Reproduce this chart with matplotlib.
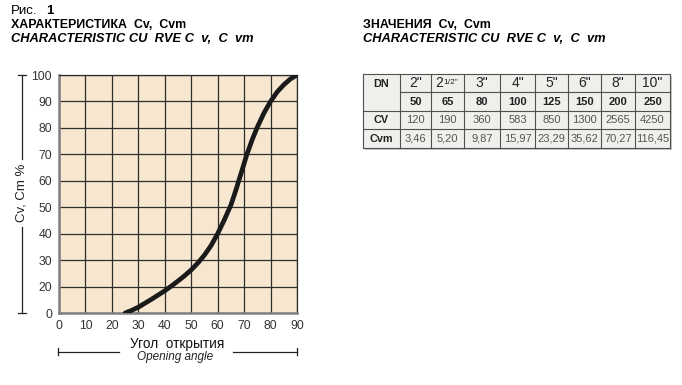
import numpy as np
import matplotlib.pyplot as plt
from matplotlib.patches import Rectangle

plt.rcParams['font.family'] = ['Liberation Sans', 'DejaVu Sans']

# curve (y in grid units: bottom row = 10, labelled "0")
angle = [25, 27.5, 30, 32.5, 35, 37.5, 40, 42.5, 45, 47.5, 50, 52.5, 55, 57.5,
         60, 62.5, 65, 67, 69, 71, 73, 75, 77.5, 80, 82.5, 85, 87.5, 90]
cv_pct = [10, 11.0, 12.2, 13.7, 15.2, 16.8, 18.4, 20.2, 22.1, 24.1, 26.3, 28.9, 31.9, 35.5,
          40, 45.2, 50.8, 56.8, 63.3, 69.8, 75.4, 80.3, 85.6, 90, 93.6, 96.3, 98.5, 100]

xticks = [0, 10, 20, 30, 40, 50, 60, 70, 80, 90]
yticks = [10, 20, 30, 40, 50, 60, 70, 80, 90, 100]
ytick_labels = ['0', '20', '30', '40', '50', '60', '70', '80', '90', '100']

# table values
dn_inch = ['2"', '2 1/2"', '3"', '4"', '5"', '6"', '8"', '10"']
dn_mm = ['50', '65', '80', '100', '125', '150', '200', '250']
cv = ['120', '190', '360', '583', '850', '1300', '2565', '4250']
cvm = ['3,46', '5,20', '9,87', '15,97', '23,29', '35,62', '70,27', '116,45']

W, H = 682, 385
fig = plt.figure(figsize=(W / 100, H / 100), dpi=100)

# overlay in pixel coords for titles, brackets and the table
ov = fig.add_axes([0, 0, 1, 1])
ov.set_xlim(0, W)
ov.set_ylim(H, 0)
ov.axis('off')

# ---- chart
ax = fig.add_axes([59 / W, 1 - 313 / H, 238 / W, 238 / H])
ax.set_facecolor('#f8e7d0')
ax.plot(angle, cv_pct, color='#1a1a1a', lw=3.4, solid_capstyle='round',
        solid_joinstyle='round', zorder=3)
ax.set_xlim(0, 90)
ax.set_ylim(10, 100)
ax.set_xticks(xticks)
ax.set_yticks(yticks)
ax.set_yticklabels(ytick_labels)
ax.grid(True, color='#2e2e2e', lw=0.9)
ax.tick_params(length=0, labelsize=8.8, colors='#333333', pad=5)
for s in ax.spines.values():
    s.set_color('#2e2e2e')
    s.set_linewidth(0.9)
ax.spines['left'].set_color('#808080')
ax.spines['left'].set_linewidth(1.8)
ax.spines['bottom'].set_color('#808080')
ax.spines['bottom'].set_linewidth(1.8)

# y label with bracket
lc = '#222222'
ov.plot([21.5, 21.5], [75, 159], color=lc, lw=0.9)
ov.plot([21.5, 21.5], [227, 313], color=lc, lw=0.9)
ov.plot([18, 26], [75, 75], color=lc, lw=0.9)
ov.plot([18, 26], [313, 313], color=lc, lw=0.9)
ov.text(21.5, 193, 'Cv, Cm %', rotation=90, ha='center', va='center',
        fontsize=9.5, color='#222222')

# x label with bracket
ov.plot([58, 119], [351.5, 351.5], color=lc, lw=0.9)
ov.plot([233, 297], [351.5, 351.5], color=lc, lw=0.9)
ov.plot([58, 58], [348, 355], color=lc, lw=0.9)
ov.plot([297, 297], [348, 355], color=lc, lw=0.9)
ov.text(177, 344, 'Угол  открытия', ha='center', va='center', fontsize=9.8,
        color='#111111')
ov.text(175, 357, 'Opening angle', ha='center', va='center', fontsize=8.5,
        style='italic', color='#222222')

# titles
ov.text(11, 11, 'Рис.', ha='left', va='center', fontsize=9.5)
ov.text(46, 11, '1', ha='left', va='center', fontsize=9.5, weight='bold')
ov.text(11, 25.5, 'ХАРАКТЕРИСТИКА  Cv,  Cvm', ha='left', va='center',
        fontsize=8.9, weight='bold')
ov.text(11, 39, 'CHARACTERISTIC CU  RVE C  v,  C  vm', ha='left', va='center',
        fontsize=9.3, weight='bold', style='italic')
ov.text(363, 24.5, 'ЗНАЧЕНИЯ  Cv,  Cvm', ha='left', va='center',
        fontsize=8.9, weight='bold')
ov.text(363, 39, 'CHARACTERISTIC CU  RVE C  v,  C  vm', ha='left', va='center',
        fontsize=9.3, weight='bold', style='italic')

# ---- table
col_x = [363, 400, 431, 464, 500, 535, 568, 601, 635, 670]
row_y = [73.5, 92, 110.5, 129, 148]
bc = '#505050'
cell_bg = '#efefec'
ov.add_patch(Rectangle((col_x[0] + 2, row_y[0] + 2), col_x[-1] - col_x[0],
                       row_y[-1] - row_y[0], facecolor='#c8c8c8', edgecolor='none'))
ov.add_patch(Rectangle((col_x[0], row_y[0]), col_x[-1] - col_x[0],
                       row_y[-1] - row_y[0], facecolor=cell_bg, edgecolor='none'))
for x in col_x:
    ov.plot([x, x], [row_y[0], row_y[-1]], color=bc, lw=0.8)
for i, y in enumerate(row_y):
    x0 = col_x[1] if i == 1 else col_x[0]
    ov.plot([x0, col_x[-1]], [y, y], color=bc, lw=0.8)

ov.text((col_x[0] + col_x[1]) / 2, (row_y[0] + row_y[1]) / 2 + 1, 'DN',
        ha='center', va='center', fontsize=7.8, weight='bold', color='#222222')
ov.text((col_x[0] + col_x[1]) / 2, (row_y[2] + row_y[3]) / 2, 'CV',
        ha='center', va='center', fontsize=7.8, weight='bold', color='#222222')
ov.text((col_x[0] + col_x[1]) / 2, (row_y[3] + row_y[4]) / 2, 'Cvm',
        ha='center', va='center', fontsize=7.8, weight='bold', color='#222222')

for j in range(8):
    xc = (col_x[j + 1] + col_x[j + 2]) / 2
    lab = dn_inch[j]
    yb = row_y[1] - 5
    if ' ' in lab:
        whole, frac = lab.split(' ')
        ov.text(xc - 4, yb, whole, ha='right', va='baseline', fontsize=10,
                color='#222222')
        ov.text(xc - 4, yb - 3, frac, ha='left', va='baseline', fontsize=6,
                color='#222222')
    else:
        ov.text(xc, yb, lab, ha='center', va='baseline', fontsize=10,
                color='#222222')
    ov.text(xc, (row_y[1] + row_y[2]) / 2 + 0.5, dn_mm[j], ha='center', va='center',
            fontsize=8, weight='bold', color='#222222')
    ov.text(xc, (row_y[2] + row_y[3]) / 2, cv[j], ha='center', va='center',
            fontsize=8, color='#555555')
    ov.text(xc, (row_y[3] + row_y[4]) / 2, cvm[j], ha='center', va='center',
            fontsize=8, color='#555555')

fig.savefig('out.png', dpi=100)
